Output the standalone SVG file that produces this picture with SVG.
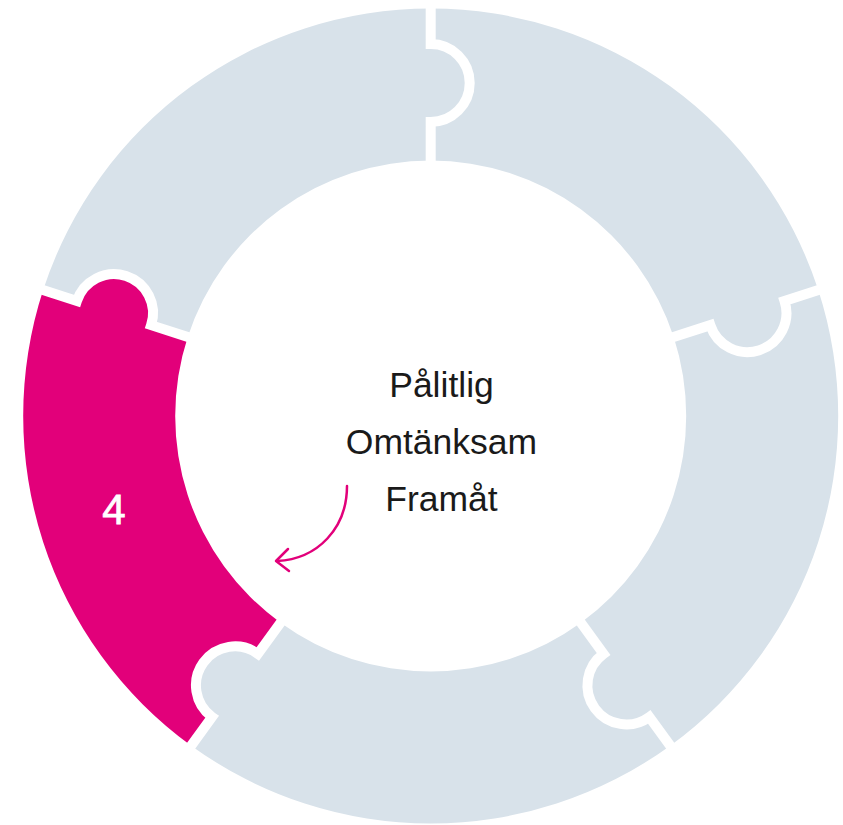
<svg xmlns="http://www.w3.org/2000/svg" width="843" height="825" viewBox="0 0 843 825">
  <style>
    .piece { fill: #D8E2EA; }
    .piece.active { fill: #E2007A; }
    .sep { fill: none; stroke: #FFFFFF; stroke-width: 10; stroke-linejoin: miter; }
    .label { font-family: "Liberation Sans", Arial, sans-serif; font-size: 35.5px; fill: #1A1A1A; text-anchor: middle; }
    .num { font-family: "Liberation Sans", Arial, sans-serif; font-size: 42px; fill: #FFFFFF; text-anchor: middle; stroke: #FFFFFF; stroke-width: 0.8; }
    .arrow { fill: none; stroke: #E2007A; stroke-width: 2.5; stroke-linecap: round; stroke-linejoin: round; }
  </style>
  <defs>
    <path id="pieceShape" d="M 0 -407.5 A 407.5 407.5 0 0 1 387.56 -125.92 L 353.79 -114.95 A 39 39 0 0 1 279.61 -90.85 L 242.99 -78.95 A 255.5 255.5 0 0 0 0 -255.5 L 0 -294 A 39 39 0 0 0 0 -372 Z"/>
    <path id="jointShape" d="M 0 -415 L 0 -372 A 39 39 0 0 1 0 -294 L 0 -248"/>
  </defs>
  <g transform="translate(430.7 416)">
    <g id="piece1"><use href="#pieceShape" class="piece" transform="rotate(0)"/></g>
    <g id="piece2"><use href="#pieceShape" class="piece" transform="rotate(72)"/></g>
    <g id="piece3"><use href="#pieceShape" class="piece" transform="rotate(144)"/></g>
    <g id="piece4"><use href="#pieceShape" class="piece active" transform="rotate(216)"/></g>
    <g id="piece5"><use href="#pieceShape" class="piece" transform="rotate(288)"/></g>
    <g id="separators">
      <use href="#jointShape" class="sep" transform="rotate(0)"/>
      <use href="#jointShape" class="sep" transform="rotate(72)"/>
      <use href="#jointShape" class="sep" transform="rotate(144)"/>
      <use href="#jointShape" class="sep" transform="rotate(216)"/>
      <use href="#jointShape" class="sep" transform="rotate(288)"/>
    </g>
  </g>
  <g id="number4"><text class="num" x="114" y="524">4</text></g>
  <g id="center-text">
    <text class="label" x="441.5" y="397">Pålitlig</text>
    <text class="label" x="441.5" y="454">Omtänksam</text>
    <text class="label" x="441.5" y="511">Framåt</text>
  </g>
  <g id="connectors">
    <path class="arrow" d="M 347 486 C 347 528 318 559 277 561"/>
    <path class="arrow" d="M 288 549 L 276 561 L 289 571"/>
  </g>
</svg>
